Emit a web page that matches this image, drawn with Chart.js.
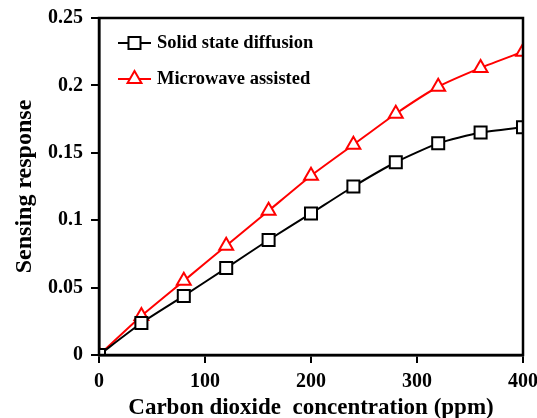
<!DOCTYPE html>
<html>
<head>
<meta charset="utf-8">
<script src="https://cdn.jsdelivr.net/npm/chart.js@4/dist/chart.umd.min.js"></script>
<style>
  html, body { margin: 0; padding: 0; background: #fff; }
  #wrap { width: 537px; height: 418px; }
</style>
</head>
<body>
<div id="wrap"><canvas id="chart" width="537" height="418"></canvas></div>
<script>
// CO2 concentration (ppm)
var concentration = [0, 40, 80, 120, 160, 200, 240, 280, 320, 360, 400];
// sensing response
var solidState = [0, 0.0237, 0.0438, 0.0645, 0.0853, 0.105, 0.125, 0.143, 0.157, 0.165, 0.169];
var microwave = [0, 0.029, 0.055, 0.081, 0.107, 0.133, 0.156, 0.179, 0.199, 0.213, 0.225];

var seriesNames = ['Solid state diffusion', 'Microwave assisted'];
var xTitle = 'Carbon dioxide  concentration (ppm)';
var yTitle = 'Sensing response';

var FONT = '"Liberation Serif", "Times New Roman", serif';

function toPoints(xs, ys) {
  return xs.map(function (x, i) { return { x: x, y: ys[i] }; });
}

// frame around the plot and the legend inside it
var framePlugin = {
  id: 'frame',
  afterDatasetsDraw: function (chart) {
    var ctx = chart.ctx, a = chart.chartArea;
    ctx.save();
    ctx.strokeStyle = '#000';
    ctx.lineWidth = 2.5;
    ctx.strokeRect(a.left, a.top, a.right - a.left, a.bottom - a.top);

    // legend
    var x0 = a.left + 19, y0 = a.top + 25, rowH = 36;
    chart.data.datasets.forEach(function (ds, i) {
      var y = y0 + i * rowH;
      ctx.strokeStyle = ds.borderColor;
      ctx.lineWidth = 2;
      ctx.beginPath();
      ctx.moveTo(x0, y);
      ctx.lineTo(x0 + 33, y);
      ctx.stroke();
      ctx.fillStyle = '#fff';
      Chart.helpers.drawPoint(ctx, {
        pointStyle: ds.pointStyle, radius: ds.pointRadius, borderWidth: 2
      }, x0 + 16.5, y);
      ctx.fillStyle = '#000';
      ctx.font = 'bold 18.5px ' + FONT;
      ctx.textBaseline = 'middle';
      ctx.textAlign = 'left';
      ctx.fillText(ds.label, x0 + 39, y);
    });
    ctx.restore();
  }
};

new Chart(document.getElementById('chart'), {
  type: 'line',
  data: {
    datasets: [
      {
        label: seriesNames[0],
        data: toPoints(concentration, solidState),
        borderColor: '#000',
        backgroundColor: '#fff',
        borderWidth: 2,
        pointStyle: 'rect',
        pointRadius: 8.5,
        pointBorderWidth: 2,
        pointBackgroundColor: '#fff',
        pointBorderColor: '#000',
        tension: 0.2
      },
      {
        label: seriesNames[1],
        data: toPoints(concentration, microwave),
        borderColor: '#ff0000',
        backgroundColor: '#fff',
        borderWidth: 2,
        pointStyle: 'triangle',
        pointRadius: 8,
        pointBorderWidth: 2,
        pointBackgroundColor: '#fff',
        pointBorderColor: '#ff0000',
        tension: 0.2
      }
    ]
  },
  options: {
    responsive: false,
    animation: false,
    layout: { padding: { top: 18, right: 14, left: 0, bottom: 0 } },
    plugins: { legend: { display: false }, tooltip: { enabled: false } },
    scales: {
      x: {
        type: 'linear',
        min: 0, max: 400,
        ticks: {
          stepSize: 100, color: '#000', padding: 7, maxRotation: 0,
          font: { family: FONT, size: 20, weight: 'bold' }
        },
        grid: { drawOnChartArea: false, color: '#000', lineWidth: 2, tickLength: 8 },
        border: { color: '#000', width: 2.5 },
        title: {
          display: true, text: xTitle, color: '#000',
          font: { family: FONT, size: 23, weight: 'bold' },
          padding: { top: 0, bottom: -4 }
        },
        afterFit: function (s) {
          s.height = 63;
          s.paddingLeft = 0;
          s.paddingRight = 0;
        }
      },
      y: {
        min: 0, max: 0.25,
        ticks: {
          stepSize: 0.05, color: '#000', padding: 8,
          font: { family: FONT, size: 20, weight: 'bold' },
          callback: function (v) { return String(Math.round(v * 100) / 100); }
        },
        grid: { drawOnChartArea: false, color: '#000', lineWidth: 2, tickLength: 8 },
        border: { color: '#000', width: 2.5 },
        title: {
          display: true, text: yTitle, color: '#000',
          font: { family: FONT, size: 24, weight: 'bold' },
          padding: { top: 10, bottom: 0 }
        },
        afterFit: function (s) {
          s.width = 99;
          s.paddingTop = 0;
          s.paddingBottom = 0;
        }
      }
    }
  },
  plugins: [framePlugin]
});
</script>
</body>
</html>
